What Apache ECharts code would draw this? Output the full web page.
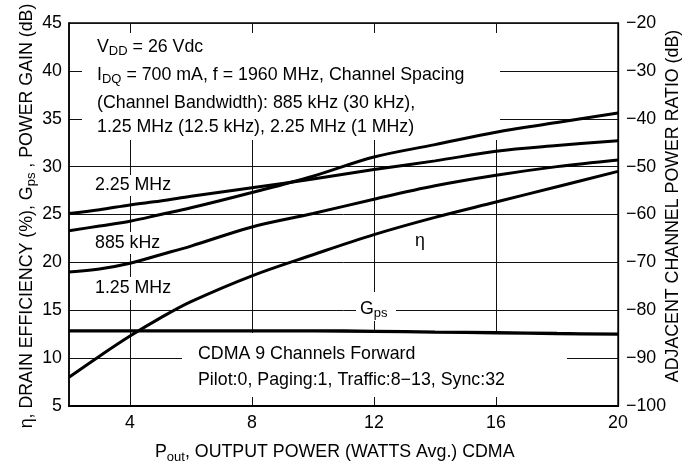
<!DOCTYPE html>
<html>
<head>
<meta charset="utf-8">
<script src="https://cdn.jsdelivr.net/npm/echarts@6/dist/echarts.min.js"></script>
<style>
  html, body { margin: 0; padding: 0; background: #fff; }
  #chart { width: 699px; height: 468px; }
</style>
</head>
<body>
<div id="chart"></div>
<script>
// Output power (W avg.) sample points
const pout = [2, 3, 4, 5, 6, 8, 10, 12, 14, 16, 18, 20];

// Adjacent channel power ratio (dB), right axis
const acpr225 = [-59.8, -59.0, -58.0, -57.2, -56.2, -54.4, -52.6, -50.6, -48.8, -46.8, -45.6, -44.6];
const acpr885 = [-63.4, -62.4, -61.4, -60.0, -58.6, -55.4, -52.0, -48.0, -45.4, -42.8, -40.8, -38.8];
const acpr125 = [-72.0, -71.4, -70.2, -68.4, -66.6, -62.6, -59.8, -56.8, -54.0, -51.8, -50.0, -48.6];

// Drain efficiency (%) and power gain (dB), left axis
const drainEff = [8.0, 10.2, 12.3, 14.2, 15.9, 18.6, 20.8, 22.9, 24.7, 26.3, 27.9, 29.5];
const powerGain = [12.85, 12.85, 12.85, 12.85, 12.85, 12.85, 12.85, 12.8, 12.72, 12.65, 12.57, 12.5];

// Axis ticks
const xTicks = [4, 8, 12, 16, 20];
const leftTicks = [5, 10, 15, 20, 25, 30, 35, 40, 45];
const rightTicks = [-100, -90, -80, -70, -60, -50, -40, -30, -20];

const FONT = '"Liberation Sans", Arial, Helvetica, sans-serif';
const FS = 17.8;
const INK = '#000';

const pairs = arr => pout.map((x, i) => [x, arr[i]]);

const rich = {
  n: { fontSize: FS, fontFamily: FONT, fill: INK, lineHeight: 22 },
  s: { fontSize: 13, fontFamily: FONT, fill: INK, lineHeight: 12, verticalAlign: 'bottom' }
};

function text(x, y, str, opts) {
  opts = opts || {};
  return {
    type: 'text', x: x, y: y, z: 5,
    rotation: opts.rotation || 0,
    style: {
      text: str, x: 0, y: 0,
      align: opts.align || 'left', verticalAlign: 'middle',
      rich: rich, fontSize: FS, fontFamily: FONT, fill: INK
    }
  };
}
function mask(x, y, w, h) {
  return { type: 'rect', z: 1, shape: { x: x, y: y, width: w, height: h }, style: { fill: '#fff' } };
}

function curve(name, data, yAxisIndex, width) {
  return {
    name: name, type: 'line', yAxisIndex: yAxisIndex, data: pairs(data),
    smooth: 0.35, showSymbol: false, z: 3,
    lineStyle: { color: INK, width: width || 3 }
  };
}

const chart = echarts.init(document.getElementById('chart'));
chart.setOption({
  animation: false,
  backgroundColor: '#fff',
  grid: {
    left: 69, top: 23, width: 549, height: 383,
    show: true, borderColor: INK, borderWidth: 1.3,
    outerBoundsMode: 'none', containLabel: false
  },
  xAxis: {
    type: 'value', min: 2, max: 20,
    axisLine: { show: true, lineStyle: { color: INK, width: 2 } },
    axisTick: { show: false, customValues: xTicks },
    axisLabel: { customValues: xTicks, margin: 8, color: INK, fontSize: FS, fontFamily: FONT },
    splitLine: { show: true, lineStyle: { color: '#111', width: 1 } }
  },
  yAxis: [
    {
      type: 'value', min: leftTicks[0], max: leftTicks[leftTicks.length - 1], interval: 5,
      axisLine: { show: true, lineStyle: { color: INK, width: 1.6 } },
      axisTick: { show: false },
      axisLabel: { margin: 7, color: INK, fontSize: FS, fontFamily: FONT },
      splitLine: { show: true, lineStyle: { color: '#111', width: 1 } }
    },
    {
      type: 'value', position: 'right',
      min: rightTicks[0], max: rightTicks[rightTicks.length - 1], interval: 10,
      axisLine: { show: true, lineStyle: { color: INK, width: 1.3 } },
      axisTick: { show: false },
      axisLabel: {
        margin: 8, color: INK, fontSize: FS, fontFamily: FONT,
        formatter: v => (v < 0 ? '\u2212' + Math.abs(v) : String(v))
      },
      splitLine: { show: false }
    }
  ],
  graphic: [
    // white panels behind the annotations
    mask(82, 33, 418, 107),
    mask(182, 333, 385, 64),
    mask(90, 175, 82, 21),
    mask(90, 232, 72, 22),
    mask(90, 277, 82, 23),
    mask(356, 292, 40, 29),

    // test conditions
    text(97, 47, '{n|V}{s|DD}{n| = 26 Vdc}'),
    text(97, 75, '{n|I}{s|DQ}{n| = 700 mA, f = 1960 MHz, Channel Spacing}'),
    text(97, 103, '{n|(Channel Bandwidth): 885 kHz (30 kHz),}'),
    text(97, 127.5, '{n|1.25 MHz (12.5 kHz), 2.25 MHz (1 MHz)}'),

    // curve labels
    text(95, 185, '{n|2.25 MHz}'),
    text(95, 243, '{n|885 kHz}'),
    text(95, 288, '{n|1.25 MHz}'),
    text(420, 241, '{n|\u03b7}', { align: 'center' }),
    text(360, 309, '{n|G}{s|ps}'),

    // signal description
    text(198, 354, '{n|CDMA 9 Channels Forward}'),
    text(198, 380, '{n|Pilot:0, Paging:1, Traffic:8\u221213, Sync:32}'),

    // axis titles
    text(155, 452.5, '{n|P}{s|out}{n|, OUTPUT POWER (WATTS Avg.) CDMA}'),
    text(27, 216, '{n|\u03b7, DRAIN EFFICIENCY (%), G}{s|ps}{n| , POWER GAIN (dB)}', { align: 'center', rotation: Math.PI / 2 }),
    text(673, 206, '{n|ADJACENT CHANNEL POWER RATIO (dB)}', { align: 'center', rotation: Math.PI / 2 })
  ],
  series: [
    curve('2.25 MHz', acpr225, 1),
    curve('885 kHz', acpr885, 1),
    curve('1.25 MHz', acpr125, 1),
    curve('\u03b7', drainEff, 0),
    curve('Gps', powerGain, 0, 3.3)
  ]
});
</script>
</body>
</html>
